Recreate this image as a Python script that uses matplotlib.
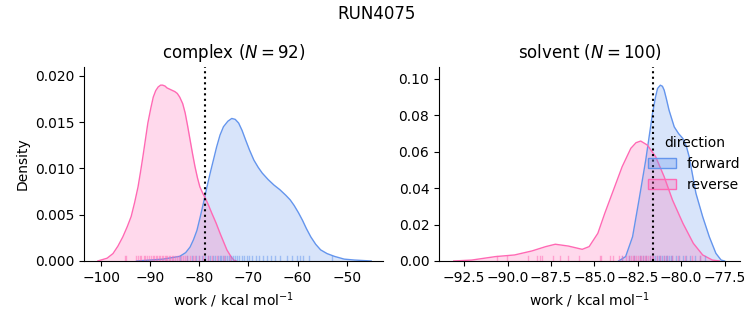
import matplotlib.pyplot as plt
from matplotlib.colors import to_rgba
from matplotlib.patches import Patch

# density curves (x = work, y = density)
complex_fwd_x = [-92.8, -87.4, -84.0, -82.8, -81.9, -81.2, -80.5, -79.9, -79.2, -78.5, -77.8, -77.1, -76.5,
                 -75.8, -75.1, -74.2, -73.4, -72.7, -72.0, -71.3, -70.6, -69.8, -68.9, -68.0, -67.2, -66.0,
                 -64.8, -63.6, -62.4, -61.5, -60.7, -59.8, -59.0, -58.2, -57.3, -56.3, -55.3, -54.0, -52.5,
                 -50.5, -48.4, -45.0]
complex_fwd_y = [0.0, 0.0002, 0.0005, 0.0009, 0.0015, 0.0023, 0.0033, 0.0046, 0.0062, 0.0079, 0.0095, 0.0110, 0.0123,
                 0.0136, 0.0145, 0.0151, 0.0154, 0.0153, 0.0149, 0.0141, 0.0131, 0.0120, 0.0109, 0.0101, 0.0095, 0.0088,
                 0.0082, 0.0077, 0.0071, 0.0066, 0.0060, 0.0052, 0.0044, 0.0035, 0.0026, 0.0018, 0.0012, 0.0008, 0.0005,
                 0.0002, 0.0001, 0.0]
complex_rev_x = [-100.7, -98.8, -97.6, -96.6, -95.6, -94.7, -93.9, -93.2, -92.5, -92.0, -91.5, -91.0, -90.5,
                 -89.9, -89.4, -88.9, -88.4, -87.9, -87.5, -87.0, -86.6, -85.8, -85.0, -84.5, -84.0, -83.4,
                 -82.9, -82.4, -81.9, -81.4, -80.9, -80.4, -79.9, -79.3, -78.8, -78.2, -77.5, -76.6, -75.8,
                 -75.1, -74.4, -73.6, -73.0, -72.5]
complex_rev_y = [0.0, 0.0003, 0.0008, 0.0016, 0.0026, 0.0037, 0.0048, 0.0063, 0.0080, 0.0096, 0.0113, 0.0131, 0.0149,
                 0.0165, 0.0177, 0.0184, 0.0188, 0.0190, 0.0190, 0.0189, 0.0187, 0.0185, 0.0183, 0.0181, 0.0177, 0.0170,
                 0.0160, 0.0146, 0.0131, 0.0116, 0.0102, 0.0090, 0.0080, 0.0073, 0.0068, 0.0061, 0.0052, 0.0041, 0.0030,
                 0.0021, 0.0012, 0.0005, 0.0001, 0.0]

solvent_fwd_x = [-83.6, -83.2, -82.8, -82.43, -82.04, -81.65, -81.48, -81.36, -81.2, -81.08, -80.98, -80.85, -80.7,
                 -80.4, -80.15, -79.9, -79.7, -79.54, -79.35, -79.15, -78.76, -78.38, -78.0, -77.7, -77.5]
solvent_fwd_y = [0.0, 0.0024, 0.0133, 0.0335, 0.0555, 0.0811, 0.0900, 0.0948, 0.0966, 0.0960, 0.0939, 0.0890, 0.0829,
                 0.0737, 0.0700, 0.0673, 0.0630, 0.0573, 0.0475, 0.0372, 0.0243, 0.0133, 0.0042, 0.0005, 0.0]
solvent_rev_x = [-93.1, -92.07, -90.7, -89.6, -88.6, -87.8, -87.25, -86.5, -85.7, -85.3, -84.8, -84.4, -83.9,
                 -83.4, -82.9, -82.6, -82.33, -81.95, -81.47, -80.98, -80.5, -79.9, -79.3, -78.76, -78.2, -77.8]
solvent_rev_y = [0.0, 0.0005, 0.0024, 0.0033, 0.0055, 0.0079, 0.0092, 0.0082, 0.0064, 0.0079, 0.0152, 0.0262, 0.0390,
                 0.0518, 0.0619, 0.0650, 0.0659, 0.0637, 0.0573, 0.0463, 0.0335, 0.0207, 0.0097, 0.0033, 0.0005, 0.0]

# individual work values (rug), estimated
complex_fwd_rug = [-84.0, -82.6, -81.5, -80.6, -80.0, -79.4, -78.8, -78.3, -77.8, -77.3, -76.8, -76.3, -75.9,
                   -75.5, -75.1, -74.7, -74.3, -73.9, -73.5, -73.1, -72.7, -72.3, -71.9, -71.4, -70.9, -70.4,
                   -69.8, -69.2, -68.5, -67.8, -67.0, -66.2, -65.4, -64.5, -63.6, -62.2, -61.2, -60.2, -59.5,
                   -58.8, -57.7, -52.9]
complex_rev_rug = [-95.2, -94.9, -93.0, -92.6, -92.2, -91.8, -91.3, -91.0, -90.6, -90.2, -89.9, -89.5, -89.2,
                   -88.9, -88.6, -88.3, -88.0, -87.7, -87.4, -87.1, -86.8, -86.5, -86.2, -85.9, -85.6, -85.3,
                   -85.0, -84.6, -84.2, -83.8, -83.4, -83.0, -82.5, -82.0, -81.4, -80.8, -80.0, -79.2, -78.3,
                   -77.5, -76.4, -75.0, -73.8]
solvent_fwd_rug = [-83.4, -83.0, -82.7, -82.4, -82.2, -82.0, -81.8, -81.6, -81.5, -81.4, -81.3, -81.2, -81.1,
                   -81.0, -80.9, -80.8, -80.7, -80.6, -80.5, -80.3, -80.1, -79.9, -79.7, -79.5, -79.2, -78.9,
                   -78.6]
solvent_rev_rug = [-90.6, -90.05, -88.8, -88.3, -88.15, -88.0, -87.4, -87.0, -86.5, -85.9, -84.7, -84.6, -84.1,
                   -83.9, -83.6, -83.4, -83.2, -83.0, -82.9, -82.8, -82.7, -82.6, -82.5, -82.4, -82.3, -82.2,
                   -82.1, -82.0, -81.9, -81.8, -81.7, -81.6, -81.4, -81.2, -81.0, -80.8, -80.5, -80.2, -79.8,
                   -79.4, -78.9]

complex_mark = -78.8
solvent_mark = -81.65

blue = "#6495ED"
pink = "#FF69B4"

fig = plt.figure(figsize=(7.53, 3.25), dpi=100)
ax1 = fig.add_axes([0.1116, 0.197, 0.397, 0.598])
ax2 = fig.add_axes([0.583, 0.197, 0.400, 0.598])

panels = [
    (ax1, complex_fwd_x, complex_fwd_y, complex_rev_x, complex_rev_y, complex_fwd_rug, complex_rev_rug, complex_mark),
    (ax2, solvent_fwd_x, solvent_fwd_y, solvent_rev_x, solvent_rev_y, solvent_fwd_rug, solvent_rev_rug, solvent_mark),
]
for ax, fx, fy, rx, ry, frug, rrug, mark in panels:
    ax.fill_between(fx, fy, color=blue, alpha=0.25, linewidth=0)
    ax.plot(fx, fy, color=blue, lw=1)
    ax.fill_between(rx, ry, color=pink, alpha=0.25, linewidth=0)
    ax.plot(rx, ry, color=pink, lw=1)
    for v in frug:
        ax.axvline(v, ymin=0, ymax=0.025, color=blue, alpha=0.5, lw=1)
    for v in rrug:
        ax.axvline(v, ymin=0, ymax=0.025, color=pink, alpha=0.5, lw=1)
    ax.axvline(mark, color="black", ls=":", lw=1.5)
    ax.spines["top"].set_visible(False)
    ax.spines["right"].set_visible(False)
    ax.set_xlabel("work / kcal mol$^{-1}$")

ax1.set_xlim(-103.5, -42.6)
ax1.set_ylim(0, 0.021)
ax1.set_xticks([-100, -90, -80, -70, -60, -50])
ax1.set_yticks([0.0, 0.005, 0.010, 0.015, 0.020])
ax1.set_ylabel("Density")
ax1.set_title("complex ($N = 92$)")

ax2.set_xlim(-93.95, -76.6)
ax2.set_ylim(0, 0.1068)
ax2.set_xticks([-92.5, -90.0, -87.5, -85.0, -82.5, -80.0, -77.5])
ax2.set_yticks([0.0, 0.02, 0.04, 0.06, 0.08, 0.10])
ax2.set_title("solvent ($N = 100$)")

fig.suptitle("RUN4075", y=0.985)

handles = [Patch(facecolor=to_rgba(blue, 0.3), edgecolor=blue, lw=1),
           Patch(facecolor=to_rgba(pink, 0.3), edgecolor=pink, lw=1)]
fig.legend(handles, ["forward", "reverse"], title="direction", frameon=False,
           loc="center", bbox_to_anchor=(0.922, 0.495))

fig.savefig("out.png", dpi=100)
